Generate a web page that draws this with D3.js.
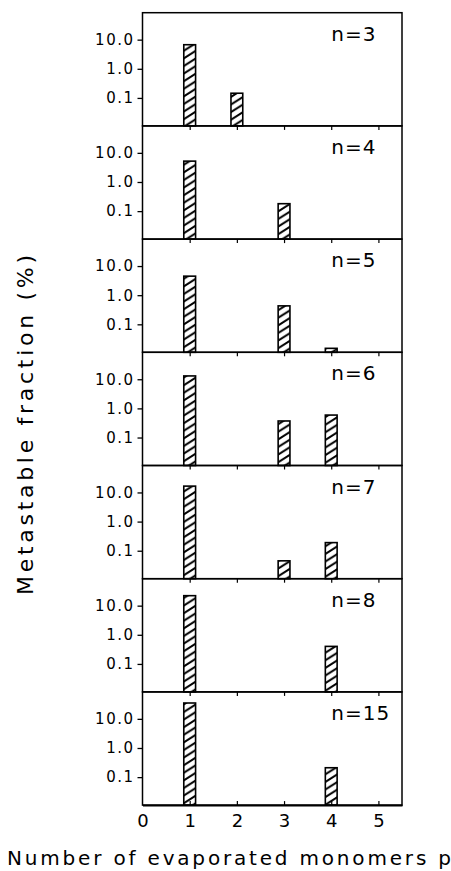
<!DOCTYPE html>
<html>
<head>
<meta charset="utf-8">
<script src="https://cdn.jsdelivr.net/npm/d3@7"></script>
<style>
  body { margin: 0; background: #fff; }
  svg text { font-family: "DejaVu Sans", sans-serif; fill: #000; }
</style>
</head>
<body>
<script>
// one panel per cluster size n
let panelLabels = ['n=3', 'n=4', 'n=5', 'n=6', 'n=7', 'n=8', 'n=15'];
// number of evaporated monomers for every bar in a panel
let monomers = [[1, 2], [1, 3], [1, 3, 4], [1, 3, 4], [1, 3, 4], [1, 4], [1, 4]];
// metastable fraction (%) for every bar
let fractions = [
    [6.7, 0.145],
    [5.2, 0.18],
    [4.5, 0.43, 0.015],
    [13, 0.37, 0.59],
    [16.5, 0.045, 0.19],
    [22, 0.4],
    [35, 0.21]
];
let xTicks = [0, 1, 2, 3, 4, 5];
let yTicks = [10, 1, 0.1];
let yTickLabels = ['10.0', '1.0', '0.1'];

//chart constants
let totalWidth = 451;
let totalHeight = 871;
let left = 142.5;
let right = 402;
let top0 = 12.7;
let panelHeight = 113.2;
let barWidth = 0.25;

let svg = d3.select('body')
    .append('svg')
    .attr('width', totalWidth)
    .attr('height', totalHeight);

//hatch fill for the bars
svg.append('defs')
    .append('pattern')
    .attr('id', 'hatch')
    .attr('patternUnits', 'userSpaceOnUse')
    .attr('width', 12)
    .attr('height', 7.6)
    .append('path')
    .attr('d', 'M0,7.6 L12,0 M-3,1.9 L3,-1.9 M9,9.5 L15,5.7')
    .attr('stroke', '#000')
    .attr('stroke-width', 2);

let xScale = d3.scaleLinear()
    .domain([0, 5.5])
    .range([left, right]);

for (let i = 0; i < panelLabels.length; i++){
    let top = top0 + i * panelHeight;
    let bottom = top + panelHeight;

    let yScale = d3.scaleLog()
        .domain([Math.pow(10, -1.96), Math.pow(10, 1.925)])
        .range([bottom, top]);

    let g = svg.append('g').attr('class', 'panel');

    let rows = monomers[i].map((m, j) => ({ m: m, v: fractions[i][j] }));

    g.selectAll('rect.bar')
        .data(rows)
        .enter()
        .append('rect')
        .attr('class', 'bar')
        .attr('x', d => xScale(d.m - barWidth / 2))
        .attr('width', xScale(barWidth) - xScale(0))
        .attr('y', d => yScale(d.v))
        .attr('height', d => bottom - yScale(d.v))
        .attr('fill', 'url(#hatch)')
        .attr('stroke', '#000')
        .attr('stroke-width', 1.6);

    //y axis, ticks outward
    let yAxis = d3.axisLeft(yScale)
        .tickValues(yTicks)
        .tickFormat((d, k) => yTickLabels[k])
        .tickSize(5)
        .tickPadding(3);
    let ya = g.append('g')
        .attr('transform', `translate(${left}, 0)`)
        .call(yAxis);
    ya.select('.domain').remove();
    ya.selectAll('line').attr('stroke-width', 1.3);
    ya.selectAll('text')
        .style('font-size', '15px')
        .style('letter-spacing', '1.5px');

    //small x ticks pointing into the panel from the top
    if (i > 0){
        let xt = g.append('g')
            .attr('transform', `translate(0, ${top})`)
            .call(d3.axisBottom(xScale).tickValues(xTicks.slice(1)).tickSize(4).tickFormat(''));
        xt.select('.domain').remove();
        xt.selectAll('line').attr('stroke-width', 1.2);
    }

    //panel frame
    g.append('rect')
        .attr('x', left)
        .attr('y', top)
        .attr('width', right - left)
        .attr('height', panelHeight)
        .attr('fill', 'none')
        .attr('stroke', '#000')
        .attr('stroke-width', 1.5);

    g.append('text')
        .attr('x', xScale(4))
        .attr('y', top + 28)
        .style('font-size', '20px')
        .style('letter-spacing', '1px')
        .text(panelLabels[i]);
}

//bottom x axis
let bottomY = top0 + panelLabels.length * panelHeight;
let xAxis = d3.axisBottom(xScale)
    .tickValues(xTicks)
    .tickFormat(d3.format('d'))
    .tickSize(0)
    .tickPadding(9);
let xa = svg.append('g')
    .attr('transform', `translate(0, ${bottomY})`)
    .call(xAxis);
xa.select('.domain').attr('stroke-width', 2);
xa.selectAll('text').style('font-size', '18px');

//inward ticks on the bottom axis
let xIn = svg.append('g')
    .attr('transform', `translate(0, ${bottomY})`)
    .call(d3.axisTop(xScale).tickValues(xTicks.slice(1)).tickSize(4).tickFormat(''));
xIn.select('.domain').remove();
xIn.selectAll('line').attr('stroke-width', 1.2);

//axis titles
svg.append('text')
    .attr('x', 7)
    .attr('y', 865)
    .attr('textLength', 444)
    .attr('lengthAdjust', 'spacing')
    .style('font-size', '20px')
    .text('Number of evaporated monomers p');

svg.append('text')
    .attr('transform', 'translate(33, 425) rotate(-90)')
    .attr('text-anchor', 'middle')
    .attr('textLength', 340)
    .attr('lengthAdjust', 'spacing')
    .style('font-size', '22px')
    .text('Metastable fraction (%)');
</script>
</body>
</html>
